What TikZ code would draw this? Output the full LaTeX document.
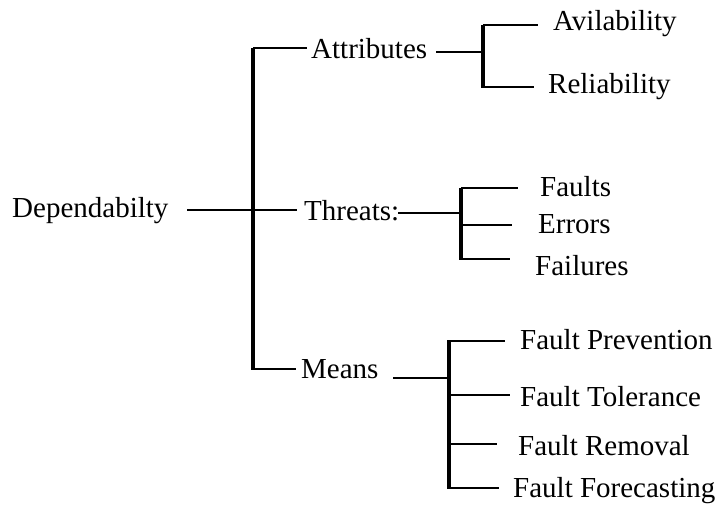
\documentclass[tikz,border=0pt]{standalone}
\usepackage{fontspec}
\setmainfont{Liberation Serif}
\begin{document}
\begin{tikzpicture}[x=1pt,y=-1pt,
  lbl/.style={anchor=base west,inner sep=0pt,font=\fontsize{29}{30}\selectfont},
  thin/.style={line width=1.3pt},
  bar/.style={line width=3.2pt},
  mainbar/.style={line width=4.6pt}]
\fill[white] (0,0) rectangle (720,504);
\useasboundingbox (0,0) rectangle (720,504);
% labels
\node[lbl] (dep) at (12,217) {Dependabilty};
\node[lbl] (attr) at (311,58) {Attributes};
\node[lbl] (thr) at (304,220) {Threats:};
\node[lbl] (means) at (301,378) {Means};
\node[lbl] (avl) at (553,30) {Avilability};
\node[lbl] (rel) at (548,93) {Reliability};
\node[lbl] (flt) at (540,196) {Faults};
\node[lbl] (err) at (538,233) {Errors};
\node[lbl] (fail) at (535,275) {Failures};
\node[lbl] (fp) at (520,349) {Fault Prevention};
\node[lbl] (ft) at (520,406) {Fault Tolerance};
\node[lbl] (fr) at (518,455) {Fault Removal};
\node[lbl] (ff) at (513,497) {Fault Forecasting};
% junction coordinates
\coordinate (m1) at (253,48);
\coordinate (m2) at (253,370);
\coordinate (d0) at (187,210);
\coordinate (d1) at (297,210);
\coordinate (a1) at (307,48);
\coordinate (n1) at (296,369);
\coordinate (b1a) at (483,25);
\coordinate (b1b) at (483,88);
\coordinate (ac0) at (436,52);
\coordinate (b2a) at (461,188);
\coordinate (b2b) at (461,260);
\coordinate (tc0) at (398,213);
\coordinate (b3a) at (449,340);
\coordinate (b3b) at (449,489);
\coordinate (mc0) at (393,378);
% main level
\draw[mainbar] (m1) -- (m2);
\draw[thin] (d0) -- (d1);
\draw[thin] (m1) -- (a1);
\draw[thin] (m2 |- n1) -- (n1);
% attributes
\draw[thin] (ac0) -- (ac0 -| b1a);
\draw[bar] (b1a) -- (b1b);
\draw[thin] (b1a) -- (538,25);
\draw[thin] (483,87) -- (534,87);
% threats
\draw[thin] (tc0) -- (tc0 -| b2a);
\draw[bar] (b2a) -- (b2b);
\draw[thin] (b2a) -- (518,188);
\draw[thin] (461,225) -- (512,225);
\draw[thin] (461,259) -- (510,259);
% means
\draw[thin] (mc0) -- (mc0 -| b3a);
\draw[bar] (b3a) -- (b3b);
\draw[thin] (449,341) -- (505,341);
\draw[thin] (449,395) -- (510,395);
\draw[thin] (449,444) -- (497,444);
\draw[thin] (449,488) -- (499,488);
\end{tikzpicture}
\end{document}
